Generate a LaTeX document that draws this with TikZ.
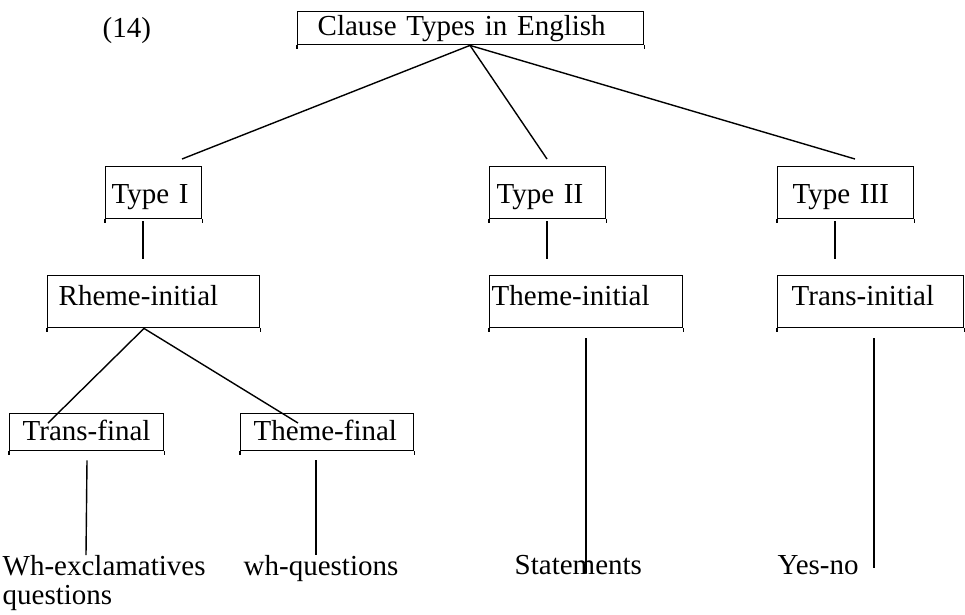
\documentclass[tikz,border=0pt]{standalone}
\usepackage{fontspec}
\setmainfont{Liberation Serif}

\tikzset{
  clausebox/.style={draw, anchor=north west, align=left, inner ysep=0pt,
    append after command={(\tikzlastnode.south west) edge ++(0,-4pt)
                          (\tikzlastnode.south east) edge ++(0,-4pt)}},
  toplevel/.style={clausebox, text height=24pt, text depth=9pt},
  typelevel/.style={clausebox, text height=37pt, text depth=15pt},
  initlevel/.style={clausebox, text height=30pt, text depth=22pt},
  finallevel/.style={clausebox, text height=27pt, text depth=10pt},
  leaf/.style={anchor=north west, inner sep=0pt, align=left}
}

\begin{document}
\begin{tikzpicture}[x=1pt,y=-1pt,line width=1.4pt,font=\fontsize{29}{29}\selectfont]
			\useasboundingbox (0,0) rectangle (965,614);

			\node (num) [anchor=base west, inner sep=0pt] at (102,37) {(14)};
			\node (title) [toplevel, text width=306pt, inner xsep=20pt] at (297,11) {Clause Types in English};

			\node (t1) [typelevel, text width=84pt, inner xsep=6pt] at (105,166) {Type I};
			\node (t2) [typelevel, text width=102pt, inner xsep=7pt] at (489,166) {Type II};
			\node (t3) [typelevel, text width=106pt, inner xsep=15pt] at (777,166) {Type III};

			\node (r1) [initlevel, text width=190pt, inner xsep=11pt] at (47,275) {Rheme-initial};
			\node (th2) [initlevel, text width=189pt, inner xsep=2pt] at (489,275) {Theme-initial};
			\node (tr3) [initlevel, text width=158pt, inner xsep=14pt] at (777,275) {Trans-initial};

			\node (trf) [finallevel, text width=128pt, inner xsep=13pt] at (9,413) {Trans-final};
			\node (thf) [finallevel, text width=147pt, inner xsep=13pt] at (240,413) {Theme-final};

			\node (whx) [leaf] at (2,555) {Wh-exclamatives\\questions};
			\node (whq) [leaf] at (243,555) {wh-questions};
			\node (stm) [leaf] at (514,555) {Statements};
			\node (yn) [leaf] at (777,555) {Yes-no};

			% top level
			\draw ([xshift=173pt]title.south west) -- ([xshift=77pt,yshift=7pt]t1.north west);
			\draw ([xshift=173pt]title.south west) -- ([xshift=58pt,yshift=7pt]t2.north west);
			\draw ([xshift=173pt]title.south west) -- ([xshift=78pt,yshift=7pt]t3.north west);

			\draw ([xshift=38pt,yshift=-2pt]t1.south west) -- ([xshift=96pt,yshift=16pt]r1.north west);
			\draw ([xshift=58pt,yshift=-2pt]t2.south west) -- ([xshift=58pt,yshift=16pt]th2.north west);
			\draw ([xshift=58pt,yshift=-2pt]t3.south west) -- ([xshift=58pt,yshift=16pt]tr3.north west);

			\draw ([xshift=97pt]r1.south west) -- ([xshift=39pt,yshift=-10pt]trf.north west);
			\draw ([xshift=97pt]r1.south west) -- ([xshift=58pt,yshift=-10pt]thf.north west);

			% down to the leaves
			\draw ([xshift=78pt,yshift=-9pt]trf.south west) -- ([xshift=84pt]whx.north west);
			\draw ([xshift=76pt,yshift=-9pt]thf.south west) -- ([xshift=73pt]whq.north west);
			\draw ([xshift=97pt,yshift=-10pt]th2.south west) -- ([xshift=72pt,yshift=2pt]stm.base west);
			\draw ([xshift=97pt,yshift=-10pt]tr3.south west) -- ([xshift=97pt,yshift=7pt]yn.base west);
		\end{tikzpicture}
\end{document}
